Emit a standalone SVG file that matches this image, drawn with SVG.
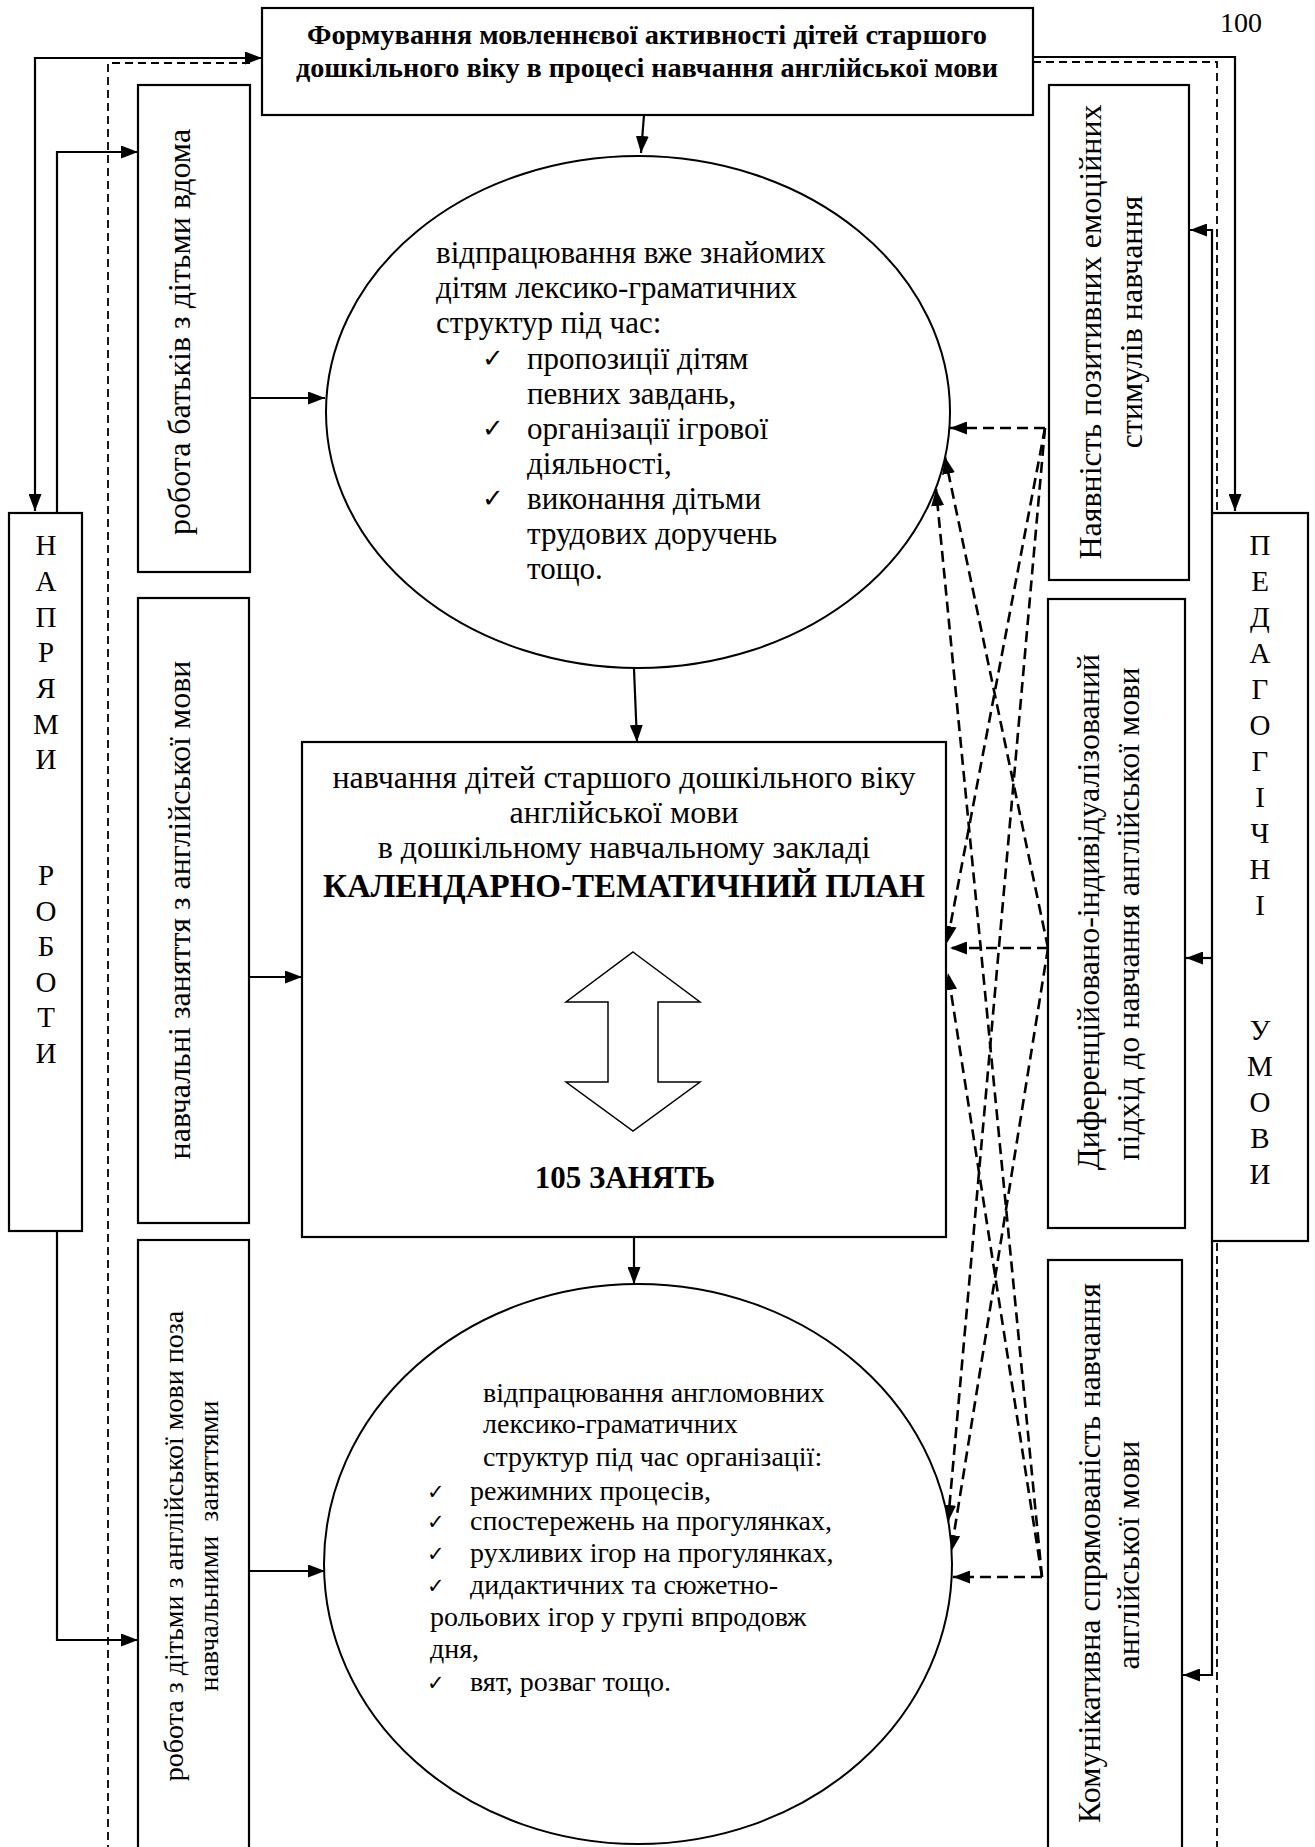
<svg xmlns="http://www.w3.org/2000/svg" width="1315" height="1847" viewBox="0 0 1315 1847">
<defs>
<marker id="arr" markerUnits="userSpaceOnUse" markerWidth="17" markerHeight="13" viewBox="0 0 17 13" refX="17" refY="6.5" orient="auto-start-reverse">
<path d="M0,0 L17,6.5 L0,13 z" fill="#000"/>
</marker>
<style>
.box{fill:#fff;stroke:#000;stroke-width:2.2}
.ell{fill:#fff;stroke:#000;stroke-width:2}
.ln{fill:none;stroke:#000;stroke-width:2.2}
.dash{fill:none;stroke:#000;stroke-width:2.6;stroke-dasharray:11 6}
.vdash{fill:none;stroke:#000;stroke-width:1.8;stroke-dasharray:8 5}
text{font-family:"Liberation Serif","Times New Roman",serif;fill:#000}
.t32{font-size:32px}
.t31{font-size:31px}
.t28{font-size:28px}
.big{font-size:29px;text-anchor:middle}
.mid{text-anchor:middle}
.b{font-weight:bold}
.chk{font-family:"DejaVu Sans",sans-serif}
</style>
</defs>
<rect width="1315" height="1847" fill="#fff"/>

<g id="connectors">
<path class="vdash" d="M250,63 L108,63 L108,1847"/>
<path class="vdash" d="M1033,62 L1217,62 L1217,1847"/>
<path class="ln" d="M262,58 L35,58 L35,511" marker-start="url(#arr)" marker-end="url(#arr)"/>
<path class="ln" d="M57,513 L57,152 L138,152" marker-end="url(#arr)"/>
<path class="ln" d="M57,1231 L57,1640 L138,1640" marker-end="url(#arr)"/>
<path class="ln" d="M1033,57 L1235,57 L1235,511" marker-end="url(#arr)"/>
<path class="ln" d="M1212,513 L1212,230 L1190,230" marker-end="url(#arr)"/>
<path class="ln" d="M1212,958 L1186,958" marker-end="url(#arr)"/>
<path class="ln" d="M1212,1241 L1212,1675 L1183,1675" marker-end="url(#arr)"/>
<path class="ln" d="M250,398 L325,398" marker-end="url(#arr)"/>
<path class="ln" d="M249,977 L302,977" marker-end="url(#arr)"/>
<path class="ln" d="M249,1571 L325,1571" marker-end="url(#arr)"/>
<path class="ln" d="M644,115 L641,153" marker-end="url(#arr)"/>
<path class="ln" d="M634,669 L637,742" marker-end="url(#arr)"/>
<path class="ln" d="M634,1237 L634,1284" marker-end="url(#arr)"/>
<path class="dash" d="M1045,428 L950,428" marker-end="url(#arr)"/>
<path class="dash" d="M1045,428 L947,943" marker-end="url(#arr)"/>
<path class="dash" d="M1045,428 L948,1522" marker-end="url(#arr)"/>
<path class="dash" d="M1048,948 L950,948" marker-end="url(#arr)"/>
<path class="dash" d="M1048,948 L945,457" marker-end="url(#arr)"/>
<path class="dash" d="M1048,948 L951,1552" marker-end="url(#arr)"/>
<path class="dash" d="M1042,1577 L953,1577" marker-end="url(#arr)"/>
<path class="dash" d="M1042,1577 L948,973" marker-end="url(#arr)"/>
<path class="dash" d="M1042,1577 L936,489" marker-end="url(#arr)"/>
</g>

<g id="page-number"><text x="1241" y="32" class="mid" font-size="28">100</text></g>

<g id="title">
<rect class="box" x="262" y="8" width="771" height="107"/>
<text class="b mid" font-size="28" x="647" y="44" textLength="680" lengthAdjust="spacingAndGlyphs">Формування мовленнєвої активності дітей старшого</text>
<text class="b mid" font-size="28" x="647" y="77" textLength="702" lengthAdjust="spacingAndGlyphs">дошкільного віку в процесі навчання англійської мови</text>
</g>

<g id="napryamy">
<rect class="box" x="9" y="513" width="73" height="718"/>
<text class="big" x="46" y="555">Н</text>
<text class="big" x="46" y="591">А</text>
<text class="big" x="46" y="627">П</text>
<text class="big" x="46" y="662">Р</text>
<text class="big" x="46" y="698">Я</text>
<text class="big" x="46" y="734">М</text>
<text class="big" x="46" y="769">И</text>
<text class="big" x="46" y="885">Р</text>
<text class="big" x="46" y="921">О</text>
<text class="big" x="46" y="956">Б</text>
<text class="big" x="46" y="992">О</text>
<text class="big" x="46" y="1027">Т</text>
<text class="big" x="46" y="1063">И</text>
</g>

<g id="pedagogichni">
<rect class="box" x="1212" y="513" width="96" height="728"/>
<text class="big" x="1260" y="555">П</text>
<text class="big" x="1260" y="591">Е</text>
<text class="big" x="1260" y="627">Д</text>
<text class="big" x="1260" y="663">А</text>
<text class="big" x="1260" y="699">Г</text>
<text class="big" x="1260" y="735">О</text>
<text class="big" x="1260" y="771">Г</text>
<text class="big" x="1260" y="807">І</text>
<text class="big" x="1260" y="843">Ч</text>
<text class="big" x="1260" y="879">Н</text>
<text class="big" x="1260" y="915">І</text>
<text class="big" x="1260" y="1040">У</text>
<text class="big" x="1260" y="1076">М</text>
<text class="big" x="1260" y="1112">О</text>
<text class="big" x="1260" y="1148">В</text>
<text class="big" x="1260" y="1184">И</text>
</g>

<g id="parents">
<rect class="box" x="138" y="85" width="112" height="487"/>
<text class="t32 mid" transform="translate(190,332) rotate(-90)">робота батьків з дітьми вдома</text>
</g>

<g id="lessons">
<rect class="box" x="138" y="598" width="111" height="625"/>
<text class="t32 mid" transform="translate(190,910) rotate(-90)">навчальні заняття з англійської мови</text>
</g>

<g id="outside">
<rect class="box" x="138" y="1240" width="111" height="612"/>
<text class="t28 mid" transform="translate(183,1546) rotate(-90)">робота з дітьми з англійської мови поза</text>
<text class="t28 mid" xml:space="preserve" transform="translate(218,1546) rotate(-90)">навчальними  заняттями</text>
</g>

<g id="emotions">
<rect class="box" x="1049" y="85" width="140" height="495"/>
<text class="t32 mid" transform="translate(1101,332) rotate(-90)">Наявність позитивних емоційних</text>
<text class="t32 mid" transform="translate(1142,322) rotate(-90)">стимулів навчання</text>
</g>

<g id="differentiated">
<rect class="box" x="1048" y="599" width="137" height="629"/>
<text class="t32 mid" transform="translate(1099,912) rotate(-90)">Диференційовано-індивідуалізований</text>
<text class="t32 mid" transform="translate(1139,914) rotate(-90)">підхід до навчання англійської мови</text>
</g>

<g id="communicative">
<rect class="box" x="1048" y="1260" width="134" height="592"/>
<text class="t32 mid" transform="translate(1100,1553) rotate(-90)">Комунікативна спрямованість навчання</text>
<text class="t32 mid" transform="translate(1139,1555) rotate(-90)">англійської мови</text>
</g>

<g id="ellipse-known">
<ellipse class="ell" cx="638" cy="412" rx="312" ry="256"/>
<text class="t31" x="436" y="263">відпрацювання вже знайомих</text>
<text class="t31" x="436" y="298">дітям лексико-граматичних</text>
<text class="t31" x="436" y="333">структур під час:</text>
<text class="chk" font-size="26" x="482" y="367">✓</text>
<text class="t31" x="527" y="369">пропозиції дітям</text>
<text class="t31" x="527" y="404">певних завдань,</text>
<text class="chk" font-size="26" x="482" y="437">✓</text>
<text class="t31" x="527" y="439">організації ігрової</text>
<text class="t31" x="527" y="474">діяльності,</text>
<text class="chk" font-size="26" x="482" y="507">✓</text>
<text class="t31" x="527" y="509">виконання дітьми</text>
<text class="t31" x="527" y="544">трудових доручень</text>
<text class="t31" x="527" y="579">тощо.</text>
</g>

<g id="plan">
<rect class="box" x="302" y="742" width="644" height="495"/>
<text class="t32 mid" x="624" y="788">навчання дітей старшого дошкільного віку</text>
<text class="t32 mid" x="624" y="823">англійської мови</text>
<text class="t32 mid" x="624" y="858">в дошкільному навчальному закладі</text>
<text class="b mid" font-size="33" x="624" y="897">КАЛЕНДАРНО-ТЕМАТИЧНИЙ ПЛАН</text>
<polygon points="633,952 700,1002 658,1002 658,1082 700,1082 633,1131 566,1082 608,1082 608,1002 566,1002" fill="#fff" stroke="#000" stroke-width="1.5"/>
<text class="b mid" font-size="31" x="625" y="1188">105 ЗАНЯТЬ</text>
</g>

<g id="ellipse-outside">
<ellipse class="ell" cx="638" cy="1564" rx="314" ry="280"/>
<text class="t28" x="483" y="1402">відпрацювання англомовних</text>
<text class="t28" x="483" y="1433">лексико-граматичних</text>
<text class="t28" x="483" y="1466">структур під час організації:</text>
<text class="chk" font-size="21" x="427" y="1499">✓</text>
<text class="t28" x="470" y="1500">режимних процесів,</text>
<text class="chk" font-size="21" x="427" y="1529">✓</text>
<text class="t28" x="470" y="1530">спостережень на прогулянках,</text>
<text class="chk" font-size="21" x="427" y="1561">✓</text>
<text class="t28" x="470" y="1562">рухливих ігор на прогулянках,</text>
<text class="chk" font-size="21" x="427" y="1593">✓</text>
<text class="t28" x="470" y="1594">дидактичних та сюжетно-</text>
<text class="t28" x="430" y="1626">рольових ігор у групі впродовж</text>
<text class="t28" x="430" y="1658">дня,</text>
<text class="chk" font-size="21" x="427" y="1690">✓</text>
<text class="t28" x="470" y="1691">вят, розваг тощо.</text>
</g>
</svg>
